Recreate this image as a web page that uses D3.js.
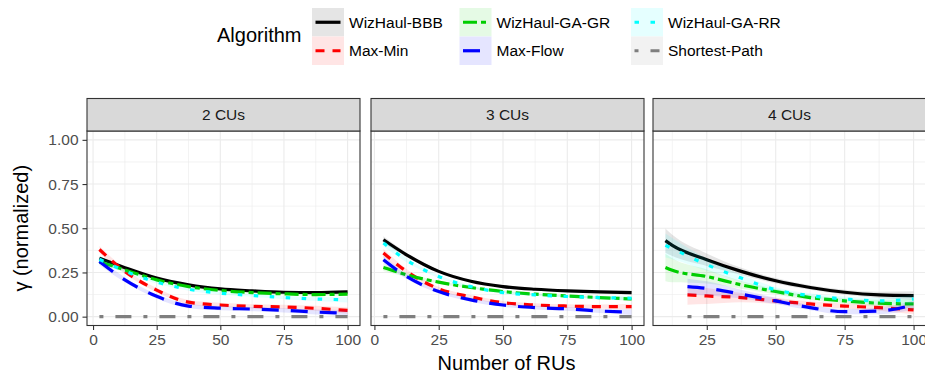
<!DOCTYPE html>
<html>
<head>
<meta charset="utf-8">
<script src="https://cdn.jsdelivr.net/npm/d3@7"></script>
<style>
body{margin:0;background:#fff;}
svg{display:block;font-family:"Liberation Sans",Arial,Helvetica,sans-serif;}
</style>
</head>
<body>
<svg id="chart" width="925" height="376"></svg>
<script>
// ---------- data ----------
const algorithms = ["WizHaul-BBB","Max-Min","WizHaul-GA-GR","Max-Flow","WizHaul-GA-RR","Shortest-Path"];
const panelLabels = ["2 CUs","3 CUs","4 CUs"];
const xTicks = [0,25,50,75,100];
const yTicks = [0,0.25,0.5,0.75,1.0];
const xLabel = "Number of RUs";
const yLabel = "γ (normalized)";
const legendTitle = "Algorithm";

// 2 CUs
const cu2X = [2.5,12.5,25,37.5,50,62.5,75,87.5,100];
const cu2BBB     = [0.330,0.277,0.218,0.180,0.157,0.146,0.138,0.136,0.140];
const cu2MaxMin  = [0.380,0.256,0.150,0.082,0.066,0.058,0.055,0.047,0.035];
const cu2GAGR    = [0.310,0.265,0.208,0.170,0.148,0.136,0.129,0.125,0.127];
const cu2MaxFlow = [0.312,0.208,0.115,0.060,0.048,0.043,0.036,0.026,0.019];
const cu2GARR    = [0.325,0.258,0.195,0.155,0.133,0.120,0.108,0.100,0.095];
const cu2SP      = [0,0,0,0,0,0,0,0,0];
const cu2BBBse     = [0.012,0.008,0.006,0.005,0.005,0.005,0.006,0.007,0.010];
const cu2MaxMinse  = [0.020,0.014,0.012,0.012,0.012,0.012,0.012,0.014,0.018];
const cu2GAGRse    = [0.012,0.008,0.006,0.005,0.005,0.005,0.006,0.007,0.010];
const cu2MaxFlowse = [0.020,0.014,0.012,0.012,0.012,0.012,0.012,0.014,0.018];
const cu2GARRse    = [0.014,0.010,0.008,0.008,0.008,0.008,0.009,0.011,0.015];
const cu2SPse      = [0,0,0,0,0,0,0,0,0];

// 3 CUs
const cu3X = [3.5,12.5,25,37.5,50,62.5,75,87.5,100];
const cu3BBB     = [0.435,0.350,0.256,0.200,0.170,0.155,0.146,0.140,0.136];
const cu3MaxMin  = [0.360,0.256,0.158,0.112,0.079,0.066,0.060,0.057,0.057];
const cu3GAGR    = [0.278,0.237,0.195,0.165,0.142,0.127,0.117,0.108,0.100];
const cu3MaxFlow = [0.322,0.227,0.142,0.095,0.066,0.051,0.044,0.032,0.025];
const cu3GARR    = [0.417,0.320,0.227,0.170,0.136,0.123,0.114,0.108,0.104];
const cu3SP      = [0,0,0,0,0,0,0,0,0];
const cu3BBBse     = [0.020,0.012,0.008,0.006,0.006,0.006,0.006,0.008,0.012];
const cu3MaxMinse  = [0.022,0.014,0.010,0.010,0.010,0.010,0.010,0.012,0.016];
const cu3GAGRse    = [0.020,0.012,0.008,0.006,0.006,0.006,0.006,0.008,0.012];
const cu3MaxFlowse = [0.022,0.014,0.010,0.010,0.010,0.010,0.010,0.012,0.016];
const cu3GARRse    = [0.020,0.012,0.008,0.006,0.006,0.006,0.006,0.008,0.012];
const cu3SPse      = [0,0,0,0,0,0,0,0,0];

// 4 CUs
const cu4X  = [10,12.5,25,37.5,50,62.5,75,87.5,100];
const cu4XB = [18,25,37.5,50,62.5,75,87.5,100];
const cu4BBB     = [0.430,0.403,0.322,0.256,0.203,0.165,0.138,0.123,0.119];
const cu4GAGR    = [0.278,0.262,0.227,0.180,0.142,0.108,0.089,0.076,0.072];
const cu4GARR    = [0.403,0.385,0.294,0.218,0.152,0.119,0.100,0.089,0.100];
const cu4MaxMin  = [0.123,0.117,0.108,0.089,0.072,0.060,0.051,0.038];
const cu4MaxFlow = [0.170,0.160,0.127,0.089,0.051,0.028,0.032,0.066];
const cu4SP      = [0,0,0,0,0,0,0,0];
const cu4BBBse     = [0.068,0.060,0.035,0.020,0.015,0.013,0.014,0.018,0.025];
const cu4GAGRse    = [0.078,0.068,0.040,0.022,0.016,0.014,0.015,0.019,0.026];
const cu4GARRse    = [0.068,0.060,0.035,0.020,0.015,0.013,0.014,0.018,0.025];
const cu4MaxMinse  = [0.055,0.045,0.026,0.018,0.015,0.015,0.018,0.025];
const cu4MaxFlowse = [0.045,0.040,0.025,0.018,0.015,0.015,0.018,0.025];
const cu4SPse      = [0,0,0,0,0,0,0,0];

// ---------- styles ----------
const colors = ["#000000","#ff0000","#00cd00","#0000ff","#00ffff","#7f7f7f"];
const dashes = [null,"9,8","14,4,5,4","17,12","4.5,11.5","4,12,16,12"];
const lineW = 3.2;
const fillAlpha = 0.1;

// assemble series per panel
function series(xs, ys, se){ return xs.map((x,i)=>({x:x,y:ys[i],se:se[i]})); }
const panelData = [
  [series(cu2X,cu2BBB,cu2BBBse),series(cu2X,cu2MaxMin,cu2MaxMinse),series(cu2X,cu2GAGR,cu2GAGRse),
   series(cu2X,cu2MaxFlow,cu2MaxFlowse),series(cu2X,cu2GARR,cu2GARRse),series(cu2X,cu2SP,cu2SPse)],
  [series(cu3X,cu3BBB,cu3BBBse),series(cu3X,cu3MaxMin,cu3MaxMinse),series(cu3X,cu3GAGR,cu3GAGRse),
   series(cu3X,cu3MaxFlow,cu3MaxFlowse),series(cu3X,cu3GARR,cu3GARRse),series(cu3X,cu3SP,cu3SPse)],
  [series(cu4X,cu4BBB,cu4BBBse),series(cu4XB,cu4MaxMin,cu4MaxMinse),series(cu4X,cu4GAGR,cu4GAGRse),
   series(cu4XB,cu4MaxFlow,cu4MaxFlowse),series(cu4X,cu4GARR,cu4GARRse),series(cu4XB,cu4SP,cu4SPse)]
];

// ---------- layout ----------
const svg = d3.select("#chart");
const panelLeft = [87,371,653];
const panelW = 273;
const stripTop = 98.5, stripBot = 131, plotTop = 131, plotBot = 325.5;
const y = d3.scaleLinear().domain([-0.05,1.05]).range([plotBot,plotTop]);
const border = "#333333";
const gridCol = "#ebebeb";
const tickCol = "#4d4d4d";

panelData.forEach((ser,p)=>{
  const allX = ser.flat().map(d=>d.x);
  const mn = d3.min(allX), mx = d3.max(allX), ex = (mx-mn)*0.05;
  const x = d3.scaleLinear().domain([mn-ex,mx+ex]).range([panelLeft[p],panelLeft[p]+panelW]);
  const g = svg.append("g");
  const clipId = "clip"+p;
  svg.append("clipPath").attr("id",clipId).append("rect")
    .attr("x",panelLeft[p]).attr("y",plotTop).attr("width",panelW).attr("height",plotBot-plotTop);
  g.append("rect").attr("x",panelLeft[p]).attr("y",plotTop).attr("width",panelW).attr("height",plotBot-plotTop).attr("fill","#fff");
  const xt = xTicks.filter(t=>t>=x.domain()[0]&&t<=x.domain()[1]);
  const xMinor = [];
  for(let i=0;i<xTicks.length-1;i++){const m=(xTicks[i]+xTicks[i+1])/2; if(m>=x.domain()[0]&&m<=x.domain()[1]) xMinor.push(m);}
  const yMinor = [0.125,0.375,0.625,0.875];
  const gg = g.append("g").attr("clip-path",`url(#${clipId})`);
  gg.selectAll(".xmn").data(xMinor).join("line").attr("x1",d=>x(d)).attr("x2",d=>x(d)).attr("y1",plotTop).attr("y2",plotBot).attr("stroke",gridCol).attr("stroke-width",0.6);
  gg.selectAll(".ymn").data(yMinor).join("line").attr("y1",d=>y(d)).attr("y2",d=>y(d)).attr("x1",panelLeft[p]).attr("x2",panelLeft[p]+panelW).attr("stroke",gridCol).attr("stroke-width",0.6);
  gg.selectAll(".xmj").data(xt).join("line").attr("x1",d=>x(d)).attr("x2",d=>x(d)).attr("y1",plotTop).attr("y2",plotBot).attr("stroke",gridCol).attr("stroke-width",1.1);
  gg.selectAll(".ymj").data(yTicks).join("line").attr("y1",d=>y(d)).attr("y2",d=>y(d)).attr("x1",panelLeft[p]).attr("x2",panelLeft[p]+panelW).attr("stroke",gridCol).attr("stroke-width",1.1);
  const area = d3.area().x(d=>x(d.x)).y0(d=>y(d.y-d.se)).y1(d=>y(d.y+d.se)).curve(d3.curveMonotoneX);
  const line = d3.line().x(d=>x(d.x)).y(d=>y(d.y)).curve(d3.curveMonotoneX);
  ser.forEach((s,i)=>{
    gg.append("path").datum(s).attr("d",area).attr("fill",colors[i]).attr("fill-opacity",fillAlpha).attr("stroke","none");
    gg.append("path").datum(s).attr("d",line).attr("fill","none").attr("stroke",colors[i])
      .attr("stroke-width",lineW).attr("stroke-dasharray",dashes[i]).attr("stroke-linecap","butt");
  });
  g.append("rect").attr("x",panelLeft[p]).attr("y",plotTop).attr("width",panelW).attr("height",plotBot-plotTop)
    .attr("fill","none").attr("stroke",border).attr("stroke-width",1.1);
  g.append("rect").attr("x",panelLeft[p]).attr("y",stripTop).attr("width",panelW).attr("height",stripBot-stripTop)
    .attr("fill","#d9d9d9").attr("stroke",border).attr("stroke-width",1.1);
  g.append("text").attr("x",panelLeft[p]+panelW/2).attr("y",(stripTop+stripBot)/2+5.5).attr("text-anchor","middle")
    .attr("font-size","15.5px").attr("fill","#1a1a1a").text(panelLabels[p]);
  const xa = d3.axisBottom(x).tickValues(xt).tickSize(4.5).tickPadding(4).tickFormat(d3.format("d"));
  const ax = g.append("g").attr("transform",`translate(0,${plotBot})`).call(xa);
  ax.select(".domain").remove();
  ax.selectAll("line").attr("stroke",border).attr("stroke-width",1.1);
  ax.selectAll("text").attr("fill",tickCol).attr("font-size","15.5px").attr("font-family","Liberation Sans,Arial,sans-serif");
  if(p===0){
    const ya = d3.axisLeft(y).tickValues(yTicks).tickSize(4.5).tickPadding(4).tickFormat(d3.format(".2f"));
    const ay = g.append("g").attr("transform",`translate(${panelLeft[p]},0)`).call(ya);
    ay.select(".domain").remove();
    ay.selectAll("line").attr("stroke",border).attr("stroke-width",1.1);
    ay.selectAll("text").attr("fill",tickCol).attr("font-size","15.5px").attr("font-family","Liberation Sans,Arial,sans-serif");
  }
});

svg.append("text").attr("x",(panelLeft[0]+panelLeft[2]+panelW)/2).attr("y",370).attr("text-anchor","middle")
  .attr("font-size","20px").attr("fill","#000").text(xLabel);
svg.append("text").attr("transform",`translate(28,${(plotTop+plotBot)/2}) rotate(-90)`).attr("text-anchor","middle")
  .attr("font-size","20px").attr("fill","#000").text(yLabel);

const lg = svg.append("g");
lg.append("text").attr("x",217).attr("y",42).attr("font-size","20px").attr("fill","#000").text(legendTitle);
const colX = [312,459.5,631];
const rowY = [8,36.5];
const keyW = 32, keyH = 28.5;
algorithms.forEach((a,i)=>{
  const c = Math.floor(i/2), r = i%2;
  const kx = colX[c], ky = rowY[r];
  lg.append("rect").attr("x",kx).attr("y",ky).attr("width",keyW).attr("height",keyH).attr("fill","#fff");
  lg.append("rect").attr("x",kx).attr("y",ky).attr("width",keyW).attr("height",keyH).attr("fill",colors[i]).attr("fill-opacity",fillAlpha);
  lg.append("line").attr("x1",kx+3.5).attr("x2",kx+keyW-3.5).attr("y1",ky+keyH/2).attr("y2",ky+keyH/2)
    .attr("stroke",colors[i]).attr("stroke-width",lineW).attr("stroke-dasharray",dashes[i]);
  lg.append("text").attr("x",kx+keyW+5).attr("y",ky+keyH/2+5.5).attr("font-size","15.5px").attr("fill","#000").text(a);
});
</script>
</body>
</html>
